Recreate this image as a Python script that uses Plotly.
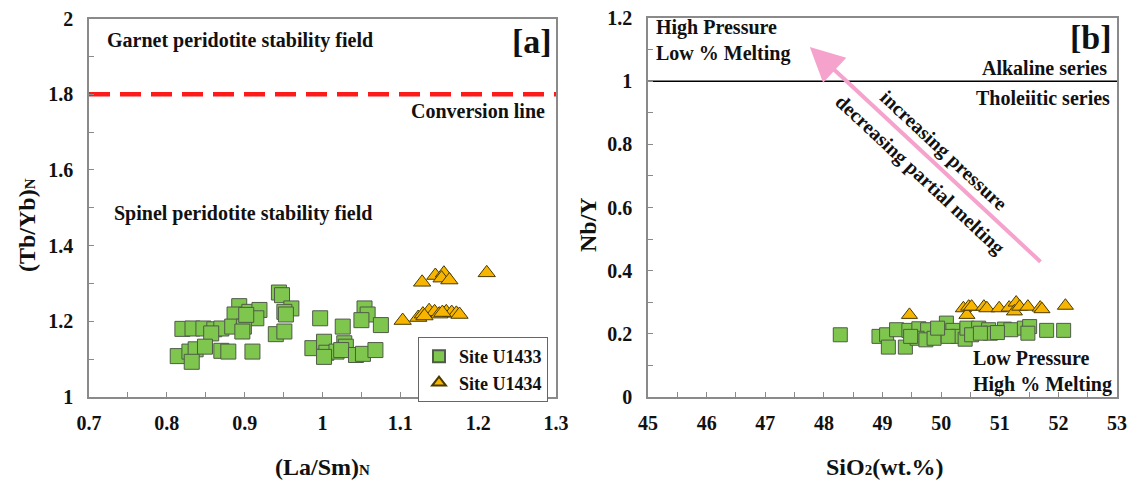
import plotly.graph_objects as go

# ---------------- Panel a data ----------------
a_u1433_x = [0.820, 0.833, 0.847, 0.861, 0.870, 0.857, 0.814, 0.829, 0.837, 0.849, 0.832, 0.870,
             0.879, 0.910, 0.893, 0.887, 0.906, 0.919, 0.915, 0.884, 0.899, 0.897, 0.902, 0.944,
             0.948, 0.960, 0.951, 0.953, 0.940, 0.951, 0.997, 1.026, 0.987, 1.002, 1.005, 1.018,
             1.028, 1.030, 1.024, 1.043, 1.052, 1.068, 1.002, 1.054, 1.058, 1.050, 1.075]
a_u1433_y = [1.180, 1.181, 1.181, 1.179, 1.181, 1.168, 1.108, 1.120, 1.126, 1.133, 1.093, 1.122,
             1.120, 1.120, 1.240, 1.218, 1.225, 1.230, 1.208, 1.186, 1.186, 1.173, 1.217, 1.276,
             1.269, 1.234, 1.225, 1.218, 1.166, 1.173, 1.208, 1.186, 1.129, 1.146, 1.117, 1.120,
             1.142, 1.133, 1.124, 1.111, 1.114, 1.124, 1.106, 1.234, 1.218, 1.203, 1.190]
a_u1434_x = [1.103, 1.123, 1.129, 1.137, 1.144, 1.150, 1.159, 1.166, 1.172, 1.176, 1.154, 1.131,
             1.128, 1.145, 1.156, 1.153, 1.163, 1.211]
a_u1434_y = [1.202, 1.210, 1.219, 1.228, 1.225, 1.219, 1.225, 1.223, 1.221, 1.218, 1.223, 1.214,
             1.303, 1.321, 1.327, 1.314, 1.309, 1.328]

# ---------------- Panel b data ----------------
b_u1433_x = [48.28, 48.94, 49.07, 49.10, 49.24, 49.39, 49.45, 49.62, 49.77, 50.00, 50.09, 50.20,
             50.29, 50.41, 50.44, 50.64, 50.81, 50.84, 51.08, 51.19, 51.42, 51.51, 51.48, 51.80,
             52.09, 49.59, 49.74, 49.88, 50.12, 50.52, 50.67, 50.96, 49.94, 49.48]
b_u1433_y = [0.197, 0.192, 0.197, 0.158, 0.213, 0.158, 0.211, 0.216, 0.213, 0.213, 0.234, 0.211,
             0.192, 0.183, 0.218, 0.218, 0.213, 0.202, 0.215, 0.213, 0.218, 0.223, 0.202, 0.211,
             0.211, 0.186, 0.181, 0.186, 0.192, 0.197, 0.202, 0.204, 0.218, 0.192]
b_u1434_x = [49.46, 50.38, 50.44, 50.47, 50.52, 50.73, 50.78, 50.99, 51.16, 51.28, 51.25, 51.34,
             51.48, 51.69, 51.72, 52.12]
b_u1434_y = [0.260, 0.281, 0.260, 0.286, 0.286, 0.286, 0.281, 0.281, 0.283, 0.299, 0.271, 0.286,
             0.286, 0.283, 0.278, 0.289]

conversion_y = 1.8
alkaline_y = 1.0
arrow_tail = (51.72, 0.424)
arrow_head = (47.76, 1.108)

a_xticks = [0.7, 0.8, 0.9, 1.0, 1.1, 1.2, 1.3]
a_xticklabels = ["0.7", "0.8", "0.9", "1", "1.1", "1.2", "1.3"]
a_yticks = [1.0, 1.2, 1.4, 1.6, 1.8, 2.0]
a_yticklabels = ["1", "1.2", "1.4", "1.6", "1.8", "2"]
b_xticks = [45, 46, 47, 48, 49, 50, 51, 52, 53]
b_xticklabels = ["45", "46", "47", "48", "49", "50", "51", "52", "53"]
b_yticks = [0, 0.2, 0.4, 0.6, 0.8, 1.0, 1.2]
b_yticklabels = ["0", "0.2", "0.4", "0.6", "0.8", "1", "1.2"]

FONT = "Liberation Serif"
GREEN = "#7fc64f"
GOLD = "#f7b500"
W, H = 1129, 484


def px(xp):
    return xp / W


def py(yp):
    return 1 - yp / H


def bold(labels):
    return ["<b>%s</b>" % s for s in labels]


fig = go.Figure()

sq_a = dict(symbol="square", size=15, color=GREEN, line=dict(color="#4f5a48", width=1))
tri_a = dict(symbol="triangle-up", size=15, color=GOLD, line=dict(color="#4a3a00", width=1))
sq_b = dict(symbol="square", size=14, color=GREEN, line=dict(color="#4f5a48", width=1))
tri_b = dict(symbol="triangle-up", size=14, color=GOLD, line=dict(color="#4a3a00", width=1))

fig.add_trace(go.Scatter(x=a_u1433_x, y=a_u1433_y, mode="markers", marker=sq_a,
                         name="<b>Site U1433</b>", xaxis="x", yaxis="y"))
fig.add_trace(go.Scatter(x=a_u1434_x, y=a_u1434_y, mode="markers", marker=tri_a,
                         name="<b>Site U1434</b>", xaxis="x", yaxis="y"))
fig.add_trace(go.Scatter(x=b_u1433_x, y=b_u1433_y, mode="markers", marker=sq_b,
                         name="Site U1433", xaxis="x2", yaxis="y2", showlegend=False))
fig.add_trace(go.Scatter(x=b_u1434_x, y=b_u1434_y, mode="markers", marker=tri_b,
                         name="Site U1434", xaxis="x2", yaxis="y2", showlegend=False))

# conversion line and alkaline/tholeiitic divider
fig.add_trace(go.Scatter(x=[0.7, 1.3], y=[conversion_y, conversion_y], mode="lines",
                         line=dict(color="#ff1a1a", width=4.5, dash="21px,10px"),
                         xaxis="x", yaxis="y", showlegend=False, hoverinfo="skip"))
fig.add_trace(go.Scatter(x=[45, 53], y=[alkaline_y, alkaline_y], mode="lines",
                         line=dict(color="black", width=1.5),
                         xaxis="x2", yaxis="y2", showlegend=False, hoverinfo="skip"))

axis_common = dict(showline=True, linecolor="#8a8a8a", linewidth=1.5, mirror=True,
                   ticks="inside", ticklen=5, tickcolor="#8a8a8a", showgrid=False,
                   zeroline=False, automargin=False, ticklabeloverflow="allow",
                   tickfont=dict(family=FONT, size=20, color="#111111"))

fig.update_layout(
    width=W, height=H,
    margin=dict(l=0, r=0, t=0, b=0, autoexpand=False),
    paper_bgcolor="white", plot_bgcolor="white",
    font=dict(family=FONT, color="black"),
    xaxis=dict(domain=[px(89), px(556)], range=[0.7, 1.3], anchor="y",
               tickvals=a_xticks, ticktext=bold(a_xticklabels), ticklabelstandoff=7,
               minor=dict(ticks="inside", dtick=0.05, ticklen=5, tickcolor="#8a8a8a"),
               **axis_common),
    yaxis=dict(domain=[py(397), py(18.5)], range=[1.0, 2.0], anchor="x",
               tickvals=a_yticks, ticktext=bold(a_yticklabels), ticklabelstandoff=10,
               minor=dict(ticks="inside", dtick=0.1, ticklen=5, tickcolor="#8a8a8a"),
               **axis_common),
    xaxis2=dict(domain=[px(648), px(1117)], range=[45, 53], anchor="y2",
                tickvals=b_xticks, ticktext=bold(b_xticklabels), ticklabelstandoff=7,
                minor=dict(ticks="inside", dtick=0.5, ticklen=5, tickcolor="#8a8a8a"),
                **axis_common),
    yaxis2=dict(domain=[py(397), py(18)], range=[0, 1.2], anchor="x2",
                tickvals=b_yticks, ticktext=bold(b_yticklabels), ticklabelstandoff=10,
                minor=dict(ticks="inside", dtick=0.1, ticklen=5, tickcolor="#8a8a8a"),
                **axis_common),
    legend=dict(x=px(418), y=py(337), xanchor="left", yanchor="top",
                bordercolor="#666666", borderwidth=1, bgcolor="white",
                font=dict(family=FONT, size=18, color="#111111"),
                itemsizing="constant", tracegroupgap=0),
)


def txt(text, x, y, xref, yref, size=20, xanchor="center", yanchor="middle", align="left", angle=0):
    fig.add_annotation(text=text, x=x, y=y, xref=xref, yref=yref, showarrow=False,
                       xanchor=xanchor, yanchor=yanchor, align=align, textangle=angle,
                       font=dict(family=FONT, size=size, color="#111111", weight="bold"))


# panel a texts
txt("Garnet peridotite stability field", 0.721, 1.943, "x", "y", xanchor="left")
txt("[a]", 1.297, 1.94, "x", "y", size=34, xanchor="right")
txt("Conversion line", 1.288, 1.756, "x", "y", xanchor="right")
txt("Spinel peridotite stability field", 0.729, 1.486, "x", "y", xanchor="left")

# panel b texts
txt("High Pressure<br>Low % Melting", 45.1, 1.13, "x2", "y2", xanchor="left")
txt("[b]", 52.95, 1.137, "x2", "y2", size=34, xanchor="right")
txt("Alkaline series", 52.87, 1.042, "x2", "y2", xanchor="right")
txt("Tholeiitic series", 52.92, 0.947, "x2", "y2", xanchor="right")
txt("Low Pressure<br>High % Melting", 52.95, 0.082, "x2", "y2", xanchor="right")

# arrow
fig.add_annotation(x=arrow_head[0], y=arrow_head[1], ax=arrow_tail[0], ay=arrow_tail[1],
                   xref="x2", yref="y2", axref="x2", ayref="y2", showarrow=True, text="",
                   arrowhead=2, arrowsize=1.7, arrowwidth=4, arrowcolor="#f5a3cc")
txt("increasing pressure", 50.04, 0.780, "x2", "y2", angle=43)
txt("decreasing partial melting", 49.64, 0.706, "x2", "y2", angle=43)

# axis titles
txt("(La/Sm)<span style='font-size:15px'>N</span>", px(322), py(467), "paper", "paper", size=24)
txt("SiO<span style='font-size:15px'>2</span>(wt.%)", px(885), py(467), "paper", "paper", size=24)
txt("(Tb/Yb)<span style='font-size:15px'>N</span>", px(27), py(225), "paper", "paper", size=24, angle=-90)
txt("Nb/Y", px(588), py(225), "paper", "paper", size=24, angle=-90)

fig.write_html("out.html",
               config={"displayModeBar": False},
               post_script="document.body.style.margin='0px';"
                           "document.body.style.overflow='hidden';")
